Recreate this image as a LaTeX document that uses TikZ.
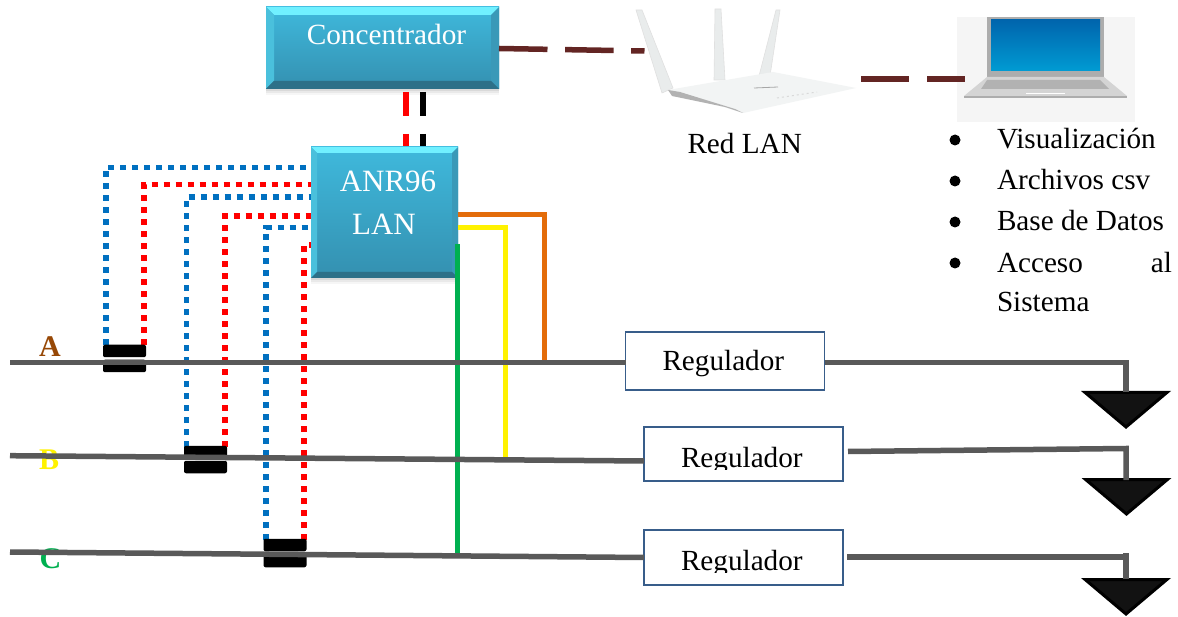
\documentclass[tikz,border=0pt]{standalone}
\usepackage{fontspec}
\setmainfont{Liberation Serif}
\usetikzlibrary{shadows}
\definecolor{wireblue}{HTML}{0070C0}
\definecolor{wirered}{HTML}{FF0000}
\definecolor{feedgray}{HTML}{595959}
\definecolor{lanbrown}{HTML}{632523}
\definecolor{wireorange}{HTML}{E36C0A}
\definecolor{wiregreen}{HTML}{00B050}
\definecolor{phasebrown}{HTML}{974806}
\definecolor{regborder}{HTML}{385D8A}
\definecolor{bevtop}{HTML}{70F0FF}
\definecolor{bevleft}{HTML}{4AC0DC}
\definecolor{bevright}{HTML}{3A99B8}
\definecolor{bevbottom}{HTML}{2D7088}
\definecolor{boxhigh}{HTML}{3FB9DC}
\definecolor{boxlow}{HTML}{3490B0}
\definecolor{routerfill}{HTML}{E9ECEC}
\newcommand{\bevelbox}[2]{%
  \fill[bevtop] (#1.north west) -- (#1.north east) -- ([shift={(-#2,#2)}]#1.north east) -- ([shift={(#2,#2)}]#1.north west) -- cycle;
  \fill[bevleft] (#1.north west) -- (#1.south west) -- ([shift={(#2,-#2)}]#1.south west) -- ([shift={(#2,#2)}]#1.north west) -- cycle;
  \fill[bevright] (#1.north east) -- (#1.south east) -- ([shift={(-#2,-#2)}]#1.south east) -- ([shift={(-#2,#2)}]#1.north east) -- cycle;
  \fill[bevbottom] (#1.south west) -- (#1.south east) -- ([shift={(-#2,-#2)}]#1.south east) -- ([shift={(#2,-#2)}]#1.south west) -- cycle;
}
\tikzset{
  x=1pt,y=-1pt,
  bluebox/.style={rectangle,inner sep=0,outer sep=0,top color=boxhigh,bottom color=boxlow,
    drop shadow={shadow xshift=0pt,shadow yshift=-6pt,opacity=.07},
    drop shadow={shadow xshift=0pt,shadow yshift=-4pt,opacity=.10},
    drop shadow={shadow xshift=0pt,shadow yshift=-2pt,opacity=.15}},
  boxtext/.style={anchor=base,inner sep=0,outer sep=0,text=white,font=\fontsize{#1}{#1}\selectfont},
  label/.style={anchor=base west,inner sep=0,outer sep=0,font=\fontsize{29.2}{35}\selectfont},
  phase/.style={anchor=base west,inner sep=0,outer sep=0,font=\fontsize{30}{30}\selectfont\bfseries},
  dotwire/.style={line width=5.6pt,draw=#1,dash pattern=on 6pt off 6pt},
  solidwire/.style={line width=5pt,draw=#1,line join=miter},
  feeder/.style={line width=5.5pt,draw=feedgray,line join=miter},
  ctwire/.style={line width=6pt,draw=#1,dash pattern=on 24pt off 18pt},
  lanlink/.style={line width=5.5pt,draw=lanbrown},
  capblock/.style={rectangle,rounded corners=2pt,fill=black,inner sep=0,outer sep=0,minimum width=43pt,minimum height=12.5pt},
  regbox/.style={rectangle,draw=regborder,line width=1.6pt,fill=white,inner sep=0,outer sep=0,minimum width=199pt},
  bulletdot/.style={circle,fill=black,inner sep=0,outer sep=0,minimum size=11pt},
  loadtri/.style={draw=black,line width=3pt,fill=black!93,line join=miter},
  antenna/.style={fill=routerfill,draw=black!12,line width=.6pt},
}
\begin{document}
\begin{tikzpicture}
\useasboundingbox (0,0) rectangle (1178,617);
\fill[white] (0,0) rectangle (1178,617);

% phase letters (under the feeders)
\node[phase,text=phasebrown] (phA) at (39,357) {A};
\node[phase,text=yellow] (phB) at (39,469) {B};
\node[phase,text=wiregreen] (phC) at (39.5,568.5) {C};

% named end points
\coordinate (b1) at (316,167.7);  \coordinate (b1c) at (105.7,345);
\coordinate (r1) at (316,184.7);  \coordinate (r1c) at (144,345);
\coordinate (b2) at (316,197);    \coordinate (b2c) at (186.5,447);
\coordinate (r2) at (316,216);    \coordinate (r2c) at (224.7,447);
\coordinate (b3) at (316,227.7);  \coordinate (b3c) at (266,540);
\coordinate (r3) at (316,245);    \coordinate (r3c) at (304,540);

% current-transformer wiring (end at the box, which covers them)
\draw[dotwire=wireblue] (b1c) |- (b1);
\draw[dotwire=wirered]  (r1c) |- (r1);
\draw[dotwire=wireblue] (b2c) |- (b2);
\draw[dotwire=wirered]  (r2c) |- (r2);
\draw[dotwire=wireblue] (b3c) |- (b3);
\draw[dotwire=wirered]  (r3c) |- (r3);

% current transformers
\node[capblock] (ctAu) at (124.5,351) {};
\node[capblock] (ctAl) at (124.5,366) {};
\node[capblock] (ctBu) at (205.5,452) {};
\node[capblock] (ctBl) at (205.5,467) {};
\node[capblock] (ctCu) at (285,545) {};
\node[capblock] (ctCl) at (285,561) {};

% router image
\fill[antenna] (636,10) -- (642,10) -- (673,88) -- (662,93) -- cycle;
\fill[antenna] (715,9) -- (721,9) -- (725,80) -- (714,80) -- cycle;
\fill[antenna] (776,10) -- (780,10) -- (770,76) -- (759,76) -- cycle;
\fill[routerfill!60!white] (668,90) -- (773,72) -- (856,88) -- (743,113) -- cycle;
\fill[black!30] (668,90) -- (680,92) -- (735,109) -- (743,113) -- (725,107) -- (672,96) -- cycle;
\draw[black!35,line width=.8pt] (754,88) -- (778,87);
\draw[black!15,line width=1pt,dash pattern=on 2pt off 3pt] (777,98) -- (817,92);

% laptop image
\fill[black!4] (957,17) rectangle (1135,122);
\fill[black!32] (987,17) rectangle (1104,77);
\shade[top color=wireblue!90!black,bottom color=wireblue!70!cyan] (991,20) rectangle (1100,71);
\fill[black!17] (987,77) -- (1104,77) -- (1127,96) -- (964,96) -- cycle;
\fill[black!32] (964,96) rectangle (1127,98);
\fill[black!30] (987,80) -- (1100,80) -- (1109,89) -- (981,89) -- cycle;
\draw[white,line width=1.2pt] (1026,93.5) -- (1065,93.5);

% blocks
\node[bluebox,minimum width=233pt,minimum height=82pt] (conc) at (382.5,48) {};
\bevelbox{conc}{8}
\node[boxtext=29.3] (conctext) at (386.5,44.5) {Concentrador};

\draw[ctwire=wirered] (405.5,92) coordinate (cr) -- (405.5,148) coordinate (ar);
\draw[ctwire=black]   (422.5,92) coordinate (ck) -- (422.5,148) coordinate (ak);

\node[bluebox,minimum width=147pt,minimum height=131pt] (anr) at (384.5,212.5) {};
\bevelbox{anr}{6}
\node[boxtext=31] (anrtext1) at (388,192) {ANR96};
\node[boxtext=31] (anrtext2) at (384,235) {LAN};

% LAN links
\coordinate (lanA) at (conc.east |- 0,48.5);
\coordinate (lanB) at (644.5,51);
\coordinate (lanC) at (861,79);
\coordinate (lanD) at (965,79);
\draw[lanlink,dash pattern=on 48.5pt off 17.6pt] (lanA) -- (lanB);
\draw[lanlink,dash pattern=on 48pt off 18pt] (lanC) -- (lanD);

% regulators
\node[regbox,minimum height=58pt] (regA) at (725,361) {};
\node[regbox,minimum height=54pt] (regB) at (743.5,454) {};
\node[regbox,minimum height=55pt] (regC) at (743.5,557.5) {};
\node[label] (regAt) at (662.5,371) {Regulador};
\node[label] (regBt) at (681,467) {Regulador};
\node[label] (regCt) at (681,570) {Regulador};
\fill[white] (650,470) rectangle (838,479);
\fill[white] (650,573) rectangle (838,583);

% signal wires from the ANR96
\coordinate (orangeA) at (544,362);
\coordinate (yellowB) at (505,460);
\coordinate (greenC) at (457.5,555);
\draw[solidwire=wireorange] (anr.east |- 0,214.7) -| (orangeA);
\draw[solidwire=yellow] (anr.east |- 0,227.7) -| (yellowB);
\draw[solidwire=wiregreen] (greenC |- 0,244) -- (greenC);

% loads
\draw[loadtri] (1085.1,392.5) -- (1166.9,392.5) -- (1126,427) -- cycle;
\draw[loadtri] (1085.6,479.5) -- (1167.4,479.5) -- (1126.5,514) -- cycle;
\draw[loadtri] (1085.1,579.5) -- (1166.9,579.5) -- (1126,614) -- cycle;
\coordinate (loadA) at (1126,392);
\coordinate (loadB) at (1126,480);
\coordinate (loadC) at (1126,579);

% feeders
\coordinate (lineA) at (10,362.5);
\coordinate (lineB) at (10,455.7);
\coordinate (lineC) at (10,552);
\coordinate (outB) at (848,451.5);
\coordinate (kneeB) at (1126,448.5);
\coordinate (outC) at (847,557);
\coordinate (kneeC) at (1126,557);
\draw[feeder] (lineA) -- (regA.west |- lineA);
\draw[feeder] (lineB) -- (regB.west |- 0,461);
\draw[feeder] (lineC) -- (regC.west |- 0,557.5);
\draw[feeder] (regA.east |- lineA) -| (loadA);
\draw[feeder] (outB) -- (kneeB) -- (loadB);
\draw[feeder] (outC) -- (kneeC);
\draw[feeder] (1126,553) -- (loadC);

% texts
\node[label] (redlan) at (687.5,153.5) {Red LAN};
\node[bulletdot] (d1) at (955,140) {};
\node[bulletdot] (d2) at (955,181) {};
\node[bulletdot] (d3) at (955,222) {};
\node[bulletdot] (d4) at (955,263) {};
\node[label] (t1) at (997,148.3) {Visualización};
\node[label] (t2) at (997,190) {Archivos csv};
\node[label] (t3) at (997,231) {Base de Datos};
\node[label] (t4) at (997,272.3) {\hbox to 175pt{Acceso\hfill al}};
\node[label] (t5) at (997,312) {Sistema};
\end{tikzpicture}
\end{document}
